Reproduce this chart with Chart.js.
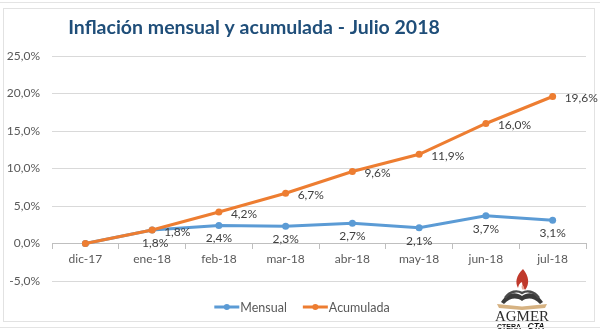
<!DOCTYPE html>
<html lang="es">
<head>
<meta charset="utf-8">
<title>Inflación mensual y acumulada - Julio 2018</title>
<script src="https://cdn.jsdelivr.net/npm/chart.js@4"></script>
<style>
    html, body { margin: 0; padding: 0; background: #fff; }
    .sheet { position: relative; width: 600px; height: 330px; overflow: hidden; }
    .sheet::before, .sheet::after {
        content: ""; position: absolute; left: 0; right: 0; height: 1px; background: #e4e4e4;
    }
    .sheet::before { top: 2px; }
    .sheet::after { bottom: 2px; }
    .frame {
        position: absolute; left: 3px; top: 8px; width: 592px; height: 314px;
        border: 1px solid #e2e2e2; box-sizing: border-box;
    }
    canvas#plot { position: absolute; left: 0; top: 0; }
    .logo { position: absolute; left: 490px; top: 266px; }
</style>
</head>
<body>
<div class="sheet">
    <div class="frame"></div>
    <canvas id="plot" width="600" height="330"></canvas>
    <svg class="logo" width="64" height="64" viewBox="0 0 64 64" aria-label="AGMER CTERA CTA">
        <!-- flame -->
        <path d="M33 3 C26 10 25 16 28 22 C29 18 30 17 32 16 C32 20 34 22 35 24 C40 18 39 10 33 3 Z" fill="#c0392b"/>
        <path d="M32 19 C31 21 32 23 33 24 C35 22 34 20 32 19 Z" fill="#e8a090"/>
        <!-- open book -->
        <path d="M11 36 C17 27 25 25 32 30 C39 25 47 27 53 36 L50 38 C44 32 38 31 32 35 C26 31 20 32 14 38 Z" fill="#3a3a3a"/>
        <path d="M15 32 C20 25 27 24 32 27 C37 24 44 25 49 32" fill="none" stroke="#4a4a4a" stroke-width="2.4"/>
        <path d="M7 38 L32 40.5 L57 38 L55 42 L32 44 L9 42 Z" fill="#d6b282"/>
        <text x="32" y="55" text-anchor="middle" font-family="Liberation Serif, serif" font-size="14" textLength="54" lengthAdjust="spacingAndGlyphs" fill="#2d2d2d">AGMER</text>
        <text x="19" y="63" text-anchor="middle" font-family="Liberation Sans, sans-serif" font-weight="bold" font-size="8" textLength="24" lengthAdjust="spacingAndGlyphs" fill="#111">CTERA</text>
        <text x="46" y="63" text-anchor="middle" font-family="Liberation Sans, sans-serif" font-weight="bold" font-style="italic" font-size="9" textLength="17" lengthAdjust="spacingAndGlyphs" fill="#111">CTA</text>
    </svg>
</div>
<script>
'use strict';

// Series
const months = ["dic-17", "ene-18", "feb-18", "mar-18", "abr-18", "may-18", "jun-18", "jul-18"];
const monthly = [0, 1.8, 2.4, 2.3, 2.7, 2.1, 3.7, 3.1];
const accumulated = [0, 1.8, 4.2, 6.7, 9.6, 11.9, 16.0, 19.6];
const yTicks = [-5, 0, 5, 10, 15, 20, 25];

const titleText = "Inflación mensual y acumulada - Julio 2018";
const BLUE = "#5b9bd5";
const ORANGE = "#ed7d31";
const FONT = "Lato, 'Open Sans', sans-serif";

function pct(v) {
    return v.toFixed(1).replace(".", ",") + "%";
}

// Title sits a little left of centre, like the original sheet
const titlePlugin = {
    id: "sheetTitle",
    afterDraw(chart) {
        const ctx = chart.ctx;
        ctx.save();
        ctx.font = "bold 19.5px " + FONT;
        ctx.fillStyle = "#1f4e79";
        ctx.textAlign = "center";
        ctx.textBaseline = "middle";
        ctx.fillText(titleText, 254, 28);
        ctx.restore();
    }
};

// Value labels: monthly below the point, accumulated to the right
const valueLabels = {
    id: "valueLabels",
    afterDatasetsDraw(chart) {
        const ctx = chart.ctx;
        ctx.save();
        ctx.font = "12px " + FONT;
        ctx.fillStyle = "#404040";
        ctx.textBaseline = "middle";
        chart.data.datasets.forEach((ds, di) => {
            const meta = chart.getDatasetMeta(di);
            meta.data.forEach((pt, i) => {
                if (i === 0) return;
                const text = pct(ds.data[i]);
                if (ds.labelSide === "below") {
                    ctx.textAlign = "center";
                    ctx.fillText(text, pt.x + (i === 1 ? 3 : 0), pt.y + 13);
                } else {
                    ctx.textAlign = "left";
                    ctx.fillText(text, pt.x + 12, pt.y + 2);
                }
            });
        });
        ctx.restore();
    }
};

// Legend with a line-and-marker swatch per series
const sheetLegend = {
    id: "sheetLegend",
    afterDraw(chart) {
        const ctx = chart.ctx;
        const y = 307;
        const swatch = 25;
        const gap = 16;
        ctx.save();
        ctx.font = "12.5px " + FONT;
        ctx.textBaseline = "middle";
        ctx.textAlign = "left";
        const items = chart.data.datasets.map(ds => ({
            ds,
            w: swatch + 1 + ctx.measureText(ds.label).width
        }));
        const total = items.reduce((s, it) => s + it.w, 0) + gap * (items.length - 1);
        let x = chart.width / 2 - total / 2 + 2;
        items.forEach(it => {
            ctx.strokeStyle = it.ds.borderColor;
            ctx.lineWidth = 3;
            ctx.beginPath();
            ctx.moveTo(x, y);
            ctx.lineTo(x + swatch, y);
            ctx.stroke();
            ctx.fillStyle = it.ds.borderColor;
            ctx.beginPath();
            ctx.arc(x + swatch / 2, y, 3, 0, Math.PI * 2);
            ctx.fill();
            ctx.fillStyle = "#595959";
            ctx.fillText(it.ds.label, x + swatch + 1, y + 1);
            x += it.w + gap;
        });
        ctx.restore();
    }
};

new Chart(document.getElementById("plot"), {
    type: "line",
    data: {
        labels: months,
        datasets: [
            {
                label: "Mensual",
                data: monthly,
                borderColor: BLUE,
                backgroundColor: BLUE,
                labelSide: "below",
                order: 1
            },
            {
                label: "Acumulada",
                data: accumulated,
                borderColor: ORANGE,
                backgroundColor: ORANGE,
                labelSide: "right",
                order: 0
            }
        ]
    },
    options: {
        responsive: false,
        animation: false,
        layout: { padding: { left: 7, right: 14, top: 56, bottom: 49 } },
        elements: {
            line: { borderWidth: 3, tension: 0 },
            point: { radius: 3.5, borderWidth: 0 }
        },
        plugins: {
            legend: { display: false },
            title: { display: false },
            tooltip: { enabled: false }
        },
        scales: {
            x: {
                position: { y: 0 },
                offset: true,
                grid: {
                    offset: true,
                    drawOnChartArea: false,
                    drawTicks: true,
                    tickLength: 5,
                    color: "#bfbfbf"
                },
                border: { color: "#bfbfbf" },
                ticks: { color: "#595959", font: { family: FONT, size: 12 }, padding: 3 }
            },
            y: {
                min: yTicks[0],
                max: yTicks[yTicks.length - 1],
                afterFit(scale) { scale.width = 45; },
                afterBuildTicks(scale) { scale.ticks = yTicks.map(v => ({ value: v })); },
                ticks: {
                    color: "#595959",
                    font: { family: FONT, size: 12 },
                    padding: 12,
                    callback: v => pct(v)
                },
                grid: { color: "#d9d9d9", drawTicks: false },
                border: { display: false }
            }
        }
    },
    plugins: [titlePlugin, valueLabels, sheetLegend]
});
</script>
</body>
</html>
